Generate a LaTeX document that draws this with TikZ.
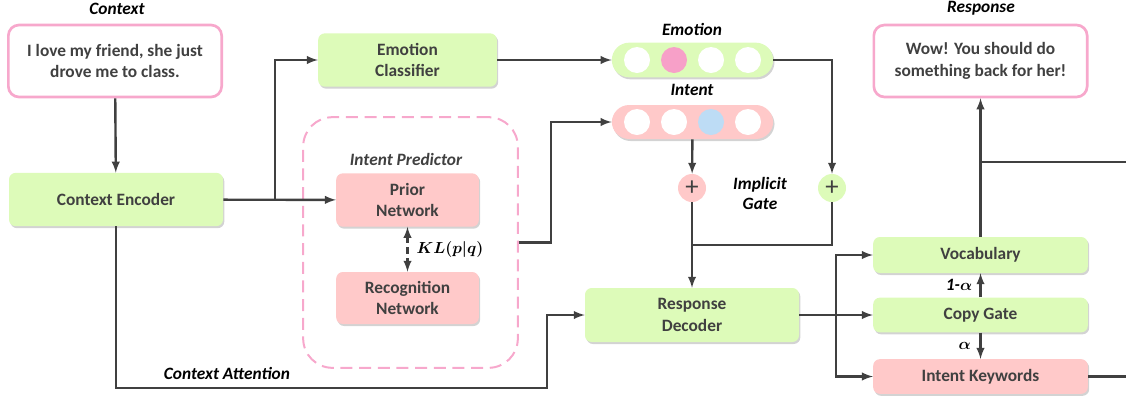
\documentclass[tikz,border=0pt]{standalone}
\usepackage{amsmath}
\usepackage{fontspec}
\setmainfont{Carlito}
\usetikzlibrary{arrows}
\usetikzlibrary{shadows}

\definecolor{boxgreen}{HTML}{DDFBB9}
\definecolor{boxpink}{HTML}{FFC9C9}
\definecolor{edgepink}{HTML}{F7A8CC}
\definecolor{dotpink}{HTML}{F7A0C8}
\definecolor{dotblue}{HTML}{BDDCF5}
\definecolor{ink}{HTML}{404040}

\begin{document}
\begin{tikzpicture}[x=0.75pt, y=-0.75pt,
	line/.style={>=latex, draw=ink, line width=1.8pt},
	block/.style={rounded corners=5pt, align=center, text=ink, inner sep=0pt,
		font=\bfseries\fontsize{13}{16}\selectfont,
		drop shadow={shadow xshift=1pt, shadow yshift=-1.5pt, opacity=0.35}},
	greenblock/.style={block, fill=boxgreen},
	pinkblock/.style={block, fill=boxpink},
	textbox/.style={draw=edgepink, line width=2pt, fill=white, rounded corners=8pt,
		align=center, text=ink, minimum width=160pt, minimum height=54pt,
		font=\bfseries\fontsize{13}{16}\selectfont},
	tag/.style={text=black, font=\bfseries\itshape\fontsize{13}{15}\selectfont},
	bar/.style={rounded corners=13pt, minimum width=121pt,
		drop shadow={shadow xshift=1pt, shadow yshift=-1.5pt, opacity=0.35}},
	dot/.style={circle, fill=white, minimum size=19.5pt, inner sep=0pt},
	plus/.style={circle, minimum size=21pt, inner sep=0pt, text=ink,
		font=\fontsize{20}{20}\selectfont}]

	\useasboundingbox (0,0) rectangle (1126,401);

	% inputs and outputs
	\node[tag] (ctxlabel) at (117,9) {Context};
	\node[textbox] (ctx) at (115,61) {I love my friend, she just\\drove me to class.};
	\node[tag] (resplabel) at (981,8) {Response};
	\node[textbox] (resp) at (980.5,61) {Wow! You should do\\something back for her!};

	% encoder side
	\node[greenblock, minimum width=160.5pt, minimum height=40pt] (enc) at (116,199.5) {Context Encoder};
	\node[greenblock, minimum width=134pt, minimum height=40pt] (emocls) at (407.5,60) {Emotion\\Classifier};

	\node[draw=edgepink, line width=1.5pt, dash pattern=on 9pt off 5pt, rounded corners=22pt,
		minimum width=161pt, minimum height=188pt] (ipred) at (410.5,242.5) {};
	\node[tag, text=ink] (iplabel) at (406,159) {Intent Predictor};
	\node[pinkblock, minimum width=107pt, minimum height=40pt] (prior) at (407.5,200) {Prior\\Network};
	\node[pinkblock, minimum width=107pt, minimum height=39pt] (recog) at (407.5,298) {Recognition\\Network};
	\node[text=black, font=\fontsize{13}{15}\selectfont] (kl) at (450,249) {$\boldsymbol{KL(p|q)}$};

	% emotion and intent vectors
	\node[tag] (emolabel) at (692,29) {Emotion};
	\node[bar, fill=boxgreen, minimum height=26pt] (emobar) at (692.5,60) {};
	\node[dot] (e1) at (637,60) {};
	\node[dot, fill=dotpink] (e2) at (674,60) {};
	\node[dot] (e3) at (711,60) {};
	\node[dot] (e4) at (748,60) {};

	\node[tag] (intlabel) at (692,90) {Intent};
	\node[bar, fill=boxpink, minimum height=25.5pt] (intbar) at (692.5,122) {};
	\node[dot] (i1) at (637,122) {};
	\node[dot] (i2) at (674,122) {};
	\node[dot, fill=dotblue] (i3) at (711,122) {};
	\node[dot] (i4) at (748,122) {};

	\node[plus, fill=boxpink] (plusi) at (692,188) {+};
	\node[plus, fill=boxgreen] (pluse) at (832,188) {+};
	\node[tag, align=center] (gate) at (760,193) {Implicit\\Gate};

	% decoder side
	\node[greenblock, minimum width=160.5pt, minimum height=40.5pt] (dec) at (692,315) {Response\\Decoder};
	\node[greenblock, minimum width=161pt, minimum height=27pt] (vocab) at (980.5,255) {Vocabulary};
	\node[greenblock, minimum width=161pt, minimum height=26pt] (copy) at (980.5,315) {Copy Gate};
	\node[pinkblock, minimum width=161pt, minimum height=26pt] (kw) at (980.5,376.5) {Intent Keywords};

	\coordinate (j1) at (275,200);
	\coordinate (j2) at (692,245);
	\coordinate (j3) at (836,315);
	\coordinate (j4) at (980.5,162);
	\coordinate (ca) at (547,388);
	\coordinate (out1) at (1126,162);
	\coordinate (out2) at (1126,376.5);

	\draw[->, line] (ctx) -- (enc);
	\draw[->, line] (enc) -- (prior);
	\draw[->, line] (j1) |- (emocls);
	\draw[->, line] (emocls) -- (emobar);
	\draw[->, line] (emobar.east) -| (pluse);
	\draw[->, line] (ipred.east) -- ++(32,0) |- (intbar);
	\draw[<->, line, dash pattern=on 5pt off 3pt] (prior) -- (recog);
	\draw[->, line] (intbar) -- (plusi);
	\draw[->, line] (plusi) -- (dec);
	\draw[line] (pluse) |- (j2);
	\draw[->, line] (enc) |- (ca) |- (dec);
	\node[tag] (calabel) at (227,373) {Context Attention};

	\draw[line] (dec) -- (j3);
	\draw[->, line] (j3) |- (vocab);
	\draw[->, line] (j3) -- (copy);
	\draw[->, line] (j3) |- (kw);
	\draw[->, line] (copy) -- node[left=2pt, tag] {1-$\boldsymbol{\alpha}$} (vocab);
	\draw[->, line] (copy) -- node[left=3pt, tag] {$\boldsymbol{\alpha}$} (kw);
	\draw[->, line] (vocab) -- (resp);
	\draw[line] (j4) -- (out1);
	\draw[line] (kw) -- (out2);

\end{tikzpicture}
\end{document}
